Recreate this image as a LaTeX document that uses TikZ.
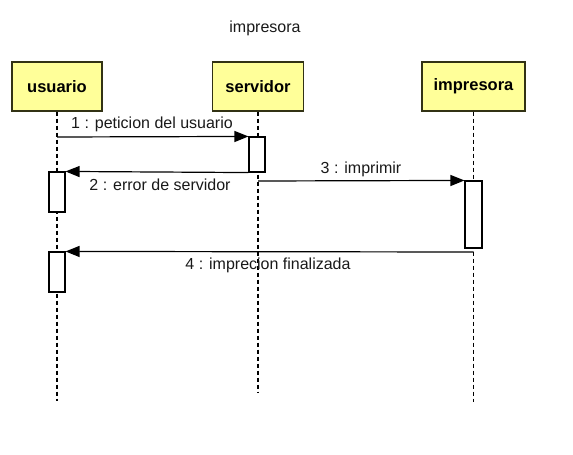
\documentclass[tikz,border=0pt]{standalone}
\usepackage{fontspec}
\setmainfont{Liberation Sans}
\usetikzlibrary{arrows.meta}
\definecolor{boxfill}{RGB}{255,255,153}
\definecolor{boxline}{RGB}{50,50,20}
\tikzset{
  objbox/.style={draw=boxline, line width=1.1pt, fill=boxfill, font=\bfseries\fontsize{16.5}{18}\selectfont, inner sep=0pt},
  actbox/.style={draw=black, line width=1.1pt, fill=white, inner sep=0pt},
  lifeline/.style={draw=black, line width=1.1pt, dash pattern=on 4pt off 3pt},
  msg/.style={draw=black, line width=1.2pt, -{Triangle[length=14pt,width=11pt]}},
  lbl/.style={font=\fontsize{16}{18}\selectfont, inner sep=0pt, text=black!90}
}
\begin{document}
\begin{tikzpicture}[x=1pt,y=-1pt]
\useasboundingbox (0,0) rectangle (573,455);
\node[lbl] (title) at (265,28) {impresora};
% objects
\node[objbox, minimum width=90pt, minimum height=49pt] (u) at (57,86.5) {usuario};
\node[objbox, minimum width=91pt, minimum height=49pt] (s) at (258,86.5) {servidor};
\node[objbox, minimum width=103pt, minimum height=49pt] (p) at (473.5,86.5) {impresora};
% lifeline ends
\coordinate (ue) at (57,401);
\coordinate (se) at (258,393);
\coordinate (pe) at (473.5,402);
\draw[lifeline] (u.south) -- (ue);
\draw[lifeline] (s.south) -- (se);
\draw[lifeline] (p.south) -- (pe);
% activations
\node[actbox, minimum width=16pt, minimum height=35pt] (sa) at (257,154.5) {};
\node[actbox, minimum width=16pt, minimum height=40pt] (ua1) at (57,192) {};
\node[actbox, minimum width=17pt, minimum height=67pt] (pa) at (473.5,214.5) {};
\node[actbox, minimum width=16pt, minimum height=40pt] (ua2) at (57,272) {};
% messages
\coordinate (m1s) at (57,137);
\draw[msg] (m1s) -- (sa.north west);
\node[lbl] (l1) at (152,124) {1 : peticion del usuario};
\draw[msg] (sa.south west) -- (ua1.north east);
\node[lbl] (l2) at (160,185) {2 : error de servidor};
\coordinate (m3s) at (258,181);
\draw[msg] (m3s) -- (pa.north west);
\node[lbl] (l3) at (361,169) {3 : imprimir};
\coordinate (m4s) at (473.5,252);
\draw[msg] (m4s) -- (ua2.north east);
\node[lbl] (l4) at (268,265) {4 : imprecion finalizada};
\end{tikzpicture}
\end{document}
